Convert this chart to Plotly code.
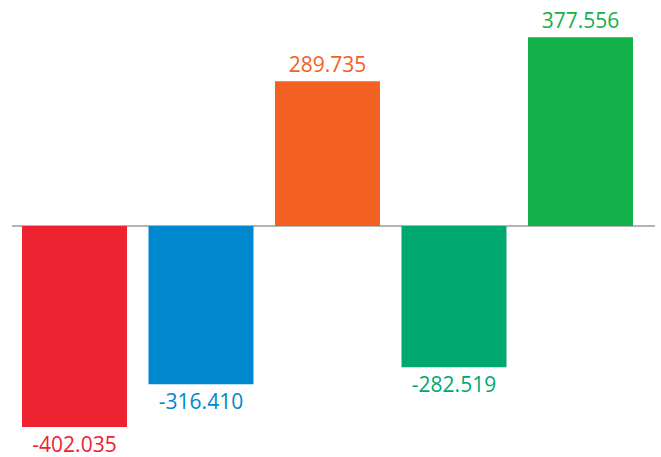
import plotly.graph_objects as go

categories = ["A", "B", "C", "D", "E"]
values = [-402.035, -316.410, 289.735, -282.519, 377.556]
labels = ["-402.035", "-316.410", "289.735", "-282.519", "377.556"]
colors = ["#EE2331", "#0088CE", "#F26122", "#00A870", "#14B04A"]

fig = go.Figure(
    go.Bar(
        x=categories,
        y=values,
        marker=dict(color=colors, line=dict(width=0)),
        text=labels,
        textposition="outside",
        textfont=dict(family="Open Sans", size=21, color=colors),
        cliponaxis=False,
        hoverinfo="skip",
    )
)

fig.update_layout(
    width=661,
    height=457,
    margin=dict(l=12, r=6, t=0, b=0, autoexpand=False),
    paper_bgcolor="white",
    plot_bgcolor="white",
    showlegend=False,
    bargap=0.17,
    xaxis=dict(
        range=[-0.494, 4.589],
        showticklabels=False,
        showgrid=False,
        zeroline=False,
        showline=False,
        ticks="",
    ),
    yaxis=dict(
        range=[-462, 452],
        showticklabels=False,
        showgrid=False,
        zeroline=True,
        zerolinecolor="#b4b4b4",
        zerolinewidth=2,
        ticks="",
    ),
)

fig.write_html(
    "out.html",
    config={"displayModeBar": False},
    post_script="document.body.style.margin='0';document.body.style.overflow='hidden';",
)
